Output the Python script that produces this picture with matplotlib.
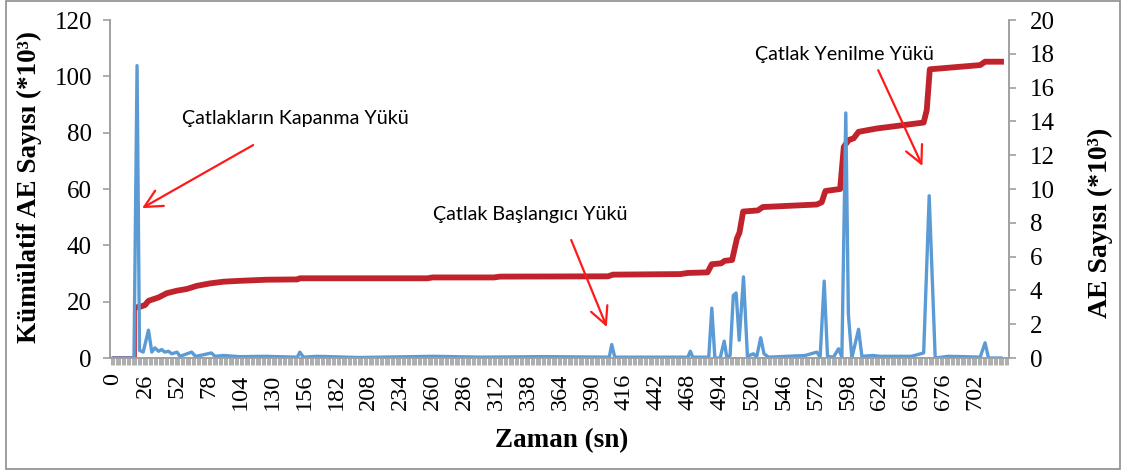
import matplotlib
matplotlib.use('Agg')
import matplotlib.pyplot as plt
from matplotlib.patches import Rectangle
from matplotlib.ticker import MultipleLocator

# zaman (sn) ve kümülatif AE sayısı (*10^3)
red_start_t = [0, 19, 19]
red_start_v = [0.3, 0.3, 18.0]

red_t = [19, 22, 26, 28.8, 37, 43.7, 51.9, 60, 68, 79, 90, 103, 125, 150,
         152, 256, 260, 310, 315, 403, 407, 462, 468, 484, 487.5, 495, 498,
         504, 508, 510, 513, 525, 529, 573, 577, 580, 592, 595, 599, 603,
         607, 622, 660, 662.5, 665, 706, 710, 723]
red_v = [18.0, 18.2, 18.8, 20.3, 21.5, 23.0, 23.9, 24.5, 25.6, 26.5, 27.1,
         27.4, 27.8, 27.9, 28.3, 28.3, 28.6, 28.6, 28.9, 29.0, 29.6, 29.8,
         30.2, 30.4, 33.3, 33.6, 34.5, 34.8, 42.5, 44.5, 52.0, 52.4, 53.6,
         54.5, 55.3, 59.3, 60.0, 75.0, 77.4, 78.0, 80.3, 81.5, 83.6, 88.0,
         102.5, 104.0, 105.2, 105.2]

# AE sayısı (*10^3)
blue_t = [0, 17, 19.5, 21.5, 24.5, 28.8, 31.5, 34, 37, 39.6, 42, 45, 47.8,
          52, 54.5, 64, 67, 71, 80, 83, 90, 103, 124, 150, 152, 155, 166,
          200, 261, 300, 350, 404, 406, 408.5, 468, 470, 472, 485, 487.5,
          490, 494.3, 497.6, 499.7, 502.4, 505, 507.3, 509.8, 513.3, 516.5,
          521.4, 524, 527.3, 530, 533.6, 563.5, 573, 575.7, 579, 581.7,
          586.6, 590.7, 593.4, 596.6, 598.7, 601.5, 607, 609.7, 619, 624.6,
          650, 660, 664.5, 669.4, 680, 692.4, 706, 710, 712.8, 723]
blue_v = [0, 0, 17.3, 0.45, 0.35, 1.65, 0.35, 0.6, 0.4, 0.5, 0.35, 0.4, 0.25,
          0.35, 0.1, 0.35, 0.1, 0.15, 0.3, 0.1, 0.15, 0.08, 0.1, 0.05, 0.35,
          0.05, 0.1, 0.03, 0.1, 0.05, 0.08, 0.05, 0.8, 0.05, 0.05, 0.4, 0.05,
          0.05, 2.95, 0, 0, 1.0, 0.05, 0.15, 3.7, 3.85, 1.05, 4.8, 0.1, 0.25,
          0.05, 1.2, 0.25, 0.05, 0.15, 0.35, 0.05, 4.55, 0.1, 0.05, 0.55,
          0.05, 14.5, 2.6, 0, 1.7, 0.1, 0.15, 0.1, 0.1, 0.3, 9.6, 0, 0.1,
          0.08, 0.05, 0.9, 0, 0]

x_labels = list(range(0, 703, 26))

annotations = [
    ("Çatlakların Kapanma Yükü", (56, 85.2), (114, 75.6), (23.6, 53.2)),
    ("Çatlak Başlangıcı Yükü", (260.6, 50.8), (373, 41.9), (402, 11.0)),
    ("Çatlak Yenilme Yükü", (522.8, 107.6), (623, 102.2), (659, 68.2)),
]

RED = "#C0232C"
BLUE = "#5B9BD5"
GREY = "#A0A0A0"
SERIF = "Liberation Serif"

assert len(red_t) == len(red_v) and len(blue_t) == len(blue_v)

fig = plt.figure(figsize=(11.24, 4.71), dpi=100)
ax = fig.add_axes([0.0979, 0.2399, 0.7998, 0.7176])
ax2 = ax.twinx()

ax.plot(red_start_t, red_start_v, color=RED, lw=1.2)
ax.plot(red_t, red_v, color=RED, lw=4.2, solid_joinstyle="round")
ax2.plot(blue_t, blue_v, color=BLUE, lw=2.4, solid_joinstyle="round")

ax.set_xlim(-2.5, 729.5)
ax.set_ylim(0, 120)
ax2.set_ylim(0, 20)

ax.set_yticks(range(0, 121, 20))
ax2.set_yticks(range(0, 21, 2))
ax.set_xticks(x_labels)
ax.xaxis.set_minor_locator(MultipleLocator(1))

for a in (ax, ax2):
    a.spines["top"].set_visible(False)
    for side in ("left", "right", "bottom"):
        a.spines[side].set_color(GREY)
        a.spines[side].set_linewidth(1.2)

ax.tick_params(axis="y", direction="out", length=5, width=1.2, color=GREY,
               labelsize=18, pad=8)
ax2.tick_params(axis="y", direction="out", length=5, width=1.2, color=GREY,
                labelsize=18, pad=10)
ax.tick_params(axis="x", which="both", direction="out", length=5, width=0.6,
               color=GREY, labelsize=17.5, pad=6, labelrotation=90)
for lab in ax.get_yticklabels() + ax2.get_yticklabels() + ax.get_xticklabels():
    lab.set_fontfamily(SERIF)

ax.set_ylabel("Kümülatif AE Sayısı (*10³)", fontfamily=SERIF,
              fontweight="bold", fontsize=19.5)
ax.yaxis.set_label_coords(-0.076, 0.505)
ax2.set_ylabel("AE Sayısı (*10³)", fontfamily=SERIF, fontweight="bold",
               fontsize=20, rotation=90)
ax2.yaxis.set_label_coords(1.088, 0.40)
ax.set_xlabel("Zaman (sn)", fontfamily=SERIF, fontweight="bold",
              fontsize=19.5)
ax.xaxis.set_label_coords(0.502, -0.207)

for text, text_xy, tail, tip in annotations:
    ax.text(*text_xy, text, fontfamily="Lato", fontsize=14.2, ha="left",
            va="center", color="black")
    ax.annotate("", xy=tip, xytext=tail,
                arrowprops=dict(arrowstyle="->,head_length=0.9,head_width=0.45",
                                color="#FF1A1A", lw=1.6, mutation_scale=14,
                                shrinkA=0, shrinkB=0))

fig.patches.append(Rectangle((0.0053, 0.0042), 0.9911, 0.9937,
                             transform=fig.transFigure, fill=False,
                             edgecolor="#8C8C8C", lw=1.2))

fig.savefig("out.png", dpi=100)
plt.close(fig)
